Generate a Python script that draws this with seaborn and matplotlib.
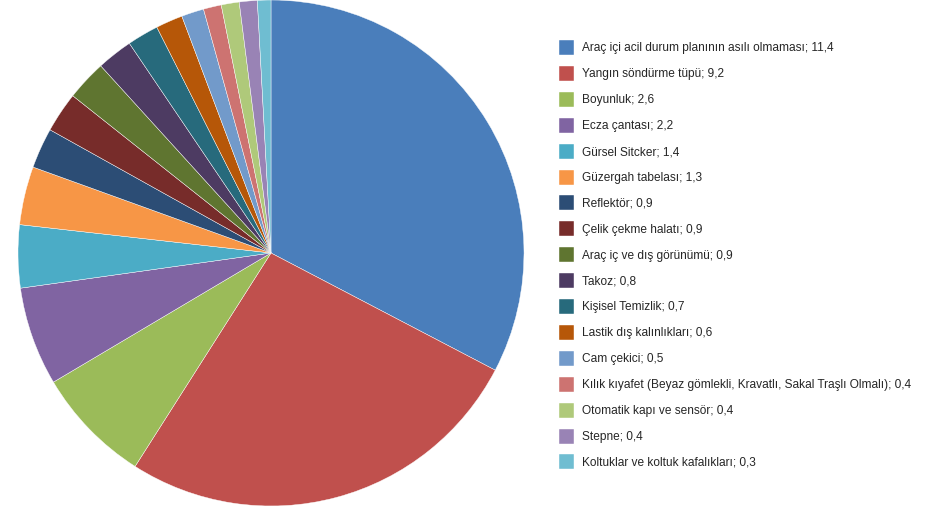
import matplotlib
matplotlib.use("Agg")
import matplotlib.pyplot as plt
import seaborn as sns

categories = [
    "Araç içi acil durum planının asılı olmaması",
    "Yangın söndürme tüpü",
    "Boyunluk",
    "Ecza çantası",
    "Gürsel Sitcker",
    "Güzergah tabelası",
    "Reflektör",
    "Çelik çekme halatı",
    "Araç iç ve dış görünümü",
    "Takoz",
    "Kişisel Temizlik",
    "Lastik dış kalınlıkları",
    "Cam çekici",
    "Kılık kıyafet (Beyaz gömlekli, Kravatlı, Sakal Traşlı Olmalı)",
    "Otomatik kapı ve sensör",
    "Stepne",
    "Koltuklar ve koltuk kafalıkları",
]
values = [11.4, 9.2, 2.6, 2.2, 1.4, 1.3, 0.9, 0.9, 0.9, 0.8, 0.7, 0.6, 0.5, 0.4, 0.4, 0.4, 0.3]
colors = [
    "#4A7EBB", "#C0504D", "#9BBB59", "#8064A2", "#4BACC6", "#F79646",
    "#2C4D75", "#772C2A", "#5F7530", "#4D3B62", "#276A7C", "#B65708",
    "#729ACA", "#CD7371", "#AFC97A", "#9983B5", "#6FBDD1",
]

sns.set_theme(style="white")
plt.rcParams["font.family"] = ["Liberation Sans", "DejaVu Sans"]
palette = sns.color_palette(colors)

fig = plt.figure(figsize=(9.37, 5.07), dpi=100)
ax = fig.add_axes([18 / 937, 1 / 507, 506 / 937, 506 / 507])
wedges, _ = ax.pie(values, colors=palette, startangle=90, counterclock=False,
                   radius=1.0, wedgeprops=dict(edgecolor="white", linewidth=0.3))
ax.set_xlim(-1, 1)
ax.set_ylim(-1, 1)
ax.set_aspect("equal")
ax.axis("off")

labels = [f"{c}; {str(v).replace('.', ',')}" for c, v in zip(categories, values)]
fig.legend(wedges, labels, loc="upper left", bbox_to_anchor=(559 / 937, 1 - 40 / 507),
           frameon=False, fontsize=8.6, handlelength=1.256, handleheight=1.555,
           labelspacing=0.913, handletextpad=0.67, borderpad=0, borderaxespad=0)

fig.savefig("out.png", dpi=100, facecolor="white")
